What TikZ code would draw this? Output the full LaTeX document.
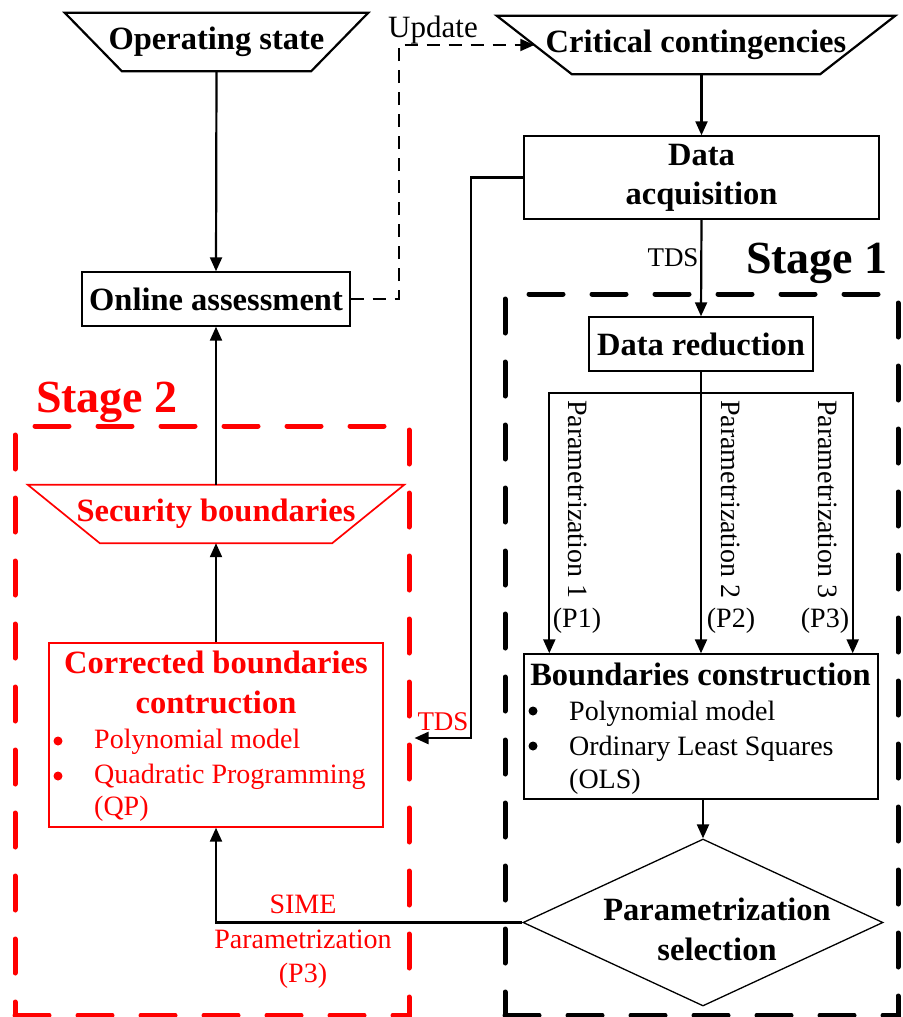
\documentclass[tikz,border=0pt]{standalone}
\usepackage{fontspec}
\setmainfont{Liberation Serif}
\usetikzlibrary{arrows.meta,shapes.geometric,calc}

\begin{document}
\begin{tikzpicture}[x=1pt,y=-1pt,
  txt/.style={inner sep=0pt},
  boldtext/.style={txt, font=\fontsize{32.5}{39}\selectfont\bfseries},
  regtext/.style={txt, font=\fontsize{28}{34}\selectfont},
  smalltext/.style={txt, font=\fontsize{27}{32}\selectfont},
  updtext/.style={txt, font=\fontsize{31}{36}\selectfont},
  stagetext/.style={txt, font=\fontsize{46}{52}\selectfont\bfseries},
  dot/.style={circle, fill, inner sep=0pt, minimum size=9pt},
  trapnode/.style={boldtext, minimum height=58pt},
  trapline/.style={line width=2.2pt, line join=miter},
  box/.style={draw, line width=1.4pt, inner sep=0pt},
  arr/.style={line width=2.2pt, -{Triangle[length=14pt,width=12pt]}},
  link/.style={line width=2.2pt},
  upd/.style={line width=1.9pt, dash pattern=on 13pt off 9pt, -{Triangle[length=14pt,width=12pt]}},
  stagebox/.style={line width=5pt, line cap=round, dash pattern=on 34pt off 29pt, inner sep=0pt},
]
\useasboundingbox (0,0) rectangle (902,1017);

% stage frames
\node[stagebox, draw, minimum width=393pt, minimum height=721pt] (s1) at (701.5,654.5) {};
\node[stagebox, draw=red, minimum width=394pt, minimum height=589pt] (s2) at (212,720.5) {};
\node[stagetext, anchor=base] (s1t) at (817,273) {Stage 1};
\node[stagetext, text=red, anchor=base] (s2t) at (107,412) {Stage 2};

% input trapezia
\node[trapnode, minimum width=303pt] (os) at (216.5,42) {Operating state};
\draw[trapline] (os.north west) -- (os.north east) -- ([xshift=-57pt]os.south east) -- ([xshift=57pt]os.south west) -- cycle;

\node[trapnode, minimum width=398pt] (cc) at (696,45) {Critical contingencies};
\draw[trapline] (cc.north west) -- (cc.north east) -- ([xshift=-75pt]cc.south east) -- ([xshift=75pt]cc.south west) -- cycle;
\coordinate (ccin) at ($(cc.north west)!0.5!([xshift=75pt]cc.south west)$);

% process boxes
\node[box, minimum width=268pt, minimum height=54pt, boldtext] (oa) at (216,299) {Online assessment};
\node[box, minimum width=355pt, minimum height=83pt, boldtext, align=center] (da) at (701.5,177.5) {Data\\acquisition};
\node[box, minimum width=224pt, minimum height=54pt, boldtext] (dr) at (701,344) {Data reduction};
\node[box, minimum width=354pt, minimum height=145pt] (bc) at (701,726.5) {};
\node[box, draw=red, minimum width=334pt, minimum height=184pt] (cb) at (216,735) {};

% output trapezium
\node[trapnode, minimum width=376pt, text=red] (sb) at (216,514) {Security boundaries};
\draw[trapline, red, line width=1.7pt] (sb.north west) -- (sb.north east) -- ([xshift=-72pt]sb.south east) -- ([xshift=72pt]sb.south west) -- cycle;

% decision
\node[draw, diamond, line width=1.3pt, minimum width=360pt, minimum height=167pt, inner sep=0pt] (ps) at (703,922.5) {};
\node[boldtext, anchor=base] (pst1) at (717,920) {Parametrization};
\node[boldtext, anchor=base] (pst2) at (717,960) {selection};

% boundaries construction contents
\node[boldtext, anchor=base] (bct) at (700.5,685) {Boundaries construction};
\node[dot] (bcb1) at (533,711) {};
\node[regtext, anchor=base west] (bcl1) at (569,720) {Polynomial model};
\node[dot] (bcb2) at (533,746) {};
\node[regtext, anchor=base west] (bcl2) at (569,755) {Ordinary Least Squares};
\node[regtext, anchor=base west] (bcl3) at (569,788) {(OLS)};

% corrected boundaries contents
\node[boldtext, text=red, anchor=base] (cbt1) at (216,673) {Corrected boundaries};
\node[boldtext, text=red, anchor=base] (cbt2) at (216,713) {contruction};
\node[dot, red] (cbb1) at (58,741) {};
\node[regtext, text=red, anchor=base west] (cbl1) at (94,748) {Polynomial model};
\node[dot, red] (cbb2) at (58,776) {};
\node[regtext, text=red, anchor=base west] (cbl2) at (94,783) {Quadratic Programming};
\node[regtext, text=red, anchor=base west] (cbl3) at (94,815) {(QP)};

% connectors
\draw[arr] (os.south) -- (oa.north);
\draw[arr] (da.north |- cc.south) -- (da.north);
\draw[arr] (da.south) -- (dr.north);
\node[smalltext, anchor=base] (tds1) at (673,266) {TDS};

\coordinate (split) at (dr.south |- 0,393);
\draw[link] (dr.south) -- (split);
\draw[arr] (split) -- (bc.north);
\draw[arr] (split) -| ([xshift=26pt]bc.north west);
\draw[arr] (split) -| ([xshift=-26pt]bc.north east);

\node[regtext, rotate=-90, anchor=base west] (p1) at (568,400) {Parametrization 1};
\node[regtext, rotate=-90, anchor=base west] (p2) at (721,400) {Parametrization 2};
\node[regtext, rotate=-90, anchor=base west] (p3) at (818,400) {Parametrization 3};
\node[regtext, anchor=base] (p1b) at (577,627) {(P1)};
\node[regtext, anchor=base] (p2b) at (731,627) {(P2)};
\node[regtext, anchor=base] (p3b) at (825,627) {(P3)};

\draw[arr] (ps.north |- bc.south) -- (ps.north);
\draw[arr] (ps.west) -| (cb.south);
\node[regtext, text=red, anchor=base] (sime1) at (303,913) {SIME};
\node[regtext, text=red, anchor=base] (sime2) at (303,948) {Parametrization};
\node[regtext, text=red, anchor=base] (sime3) at (303,982) {(P3)};

\draw[arr] (cb.north) -- (sb.south);
\draw[arr] (sb.north) -- (oa.south);

\path (s2.east |- 0,738) ++(3,0) coordinate (tdsin);
\draw[arr] (da.west) -- ++(-52,0) |- (tdsin);
\node[smalltext, text=red, anchor=base] (tds2) at (443,730) {TDS};

\draw[upd] (oa.east) -- ++(48,0) |- (ccin);
\node[updtext, anchor=base] (updt) at (433,37) {Update};

\end{tikzpicture}
\end{document}
